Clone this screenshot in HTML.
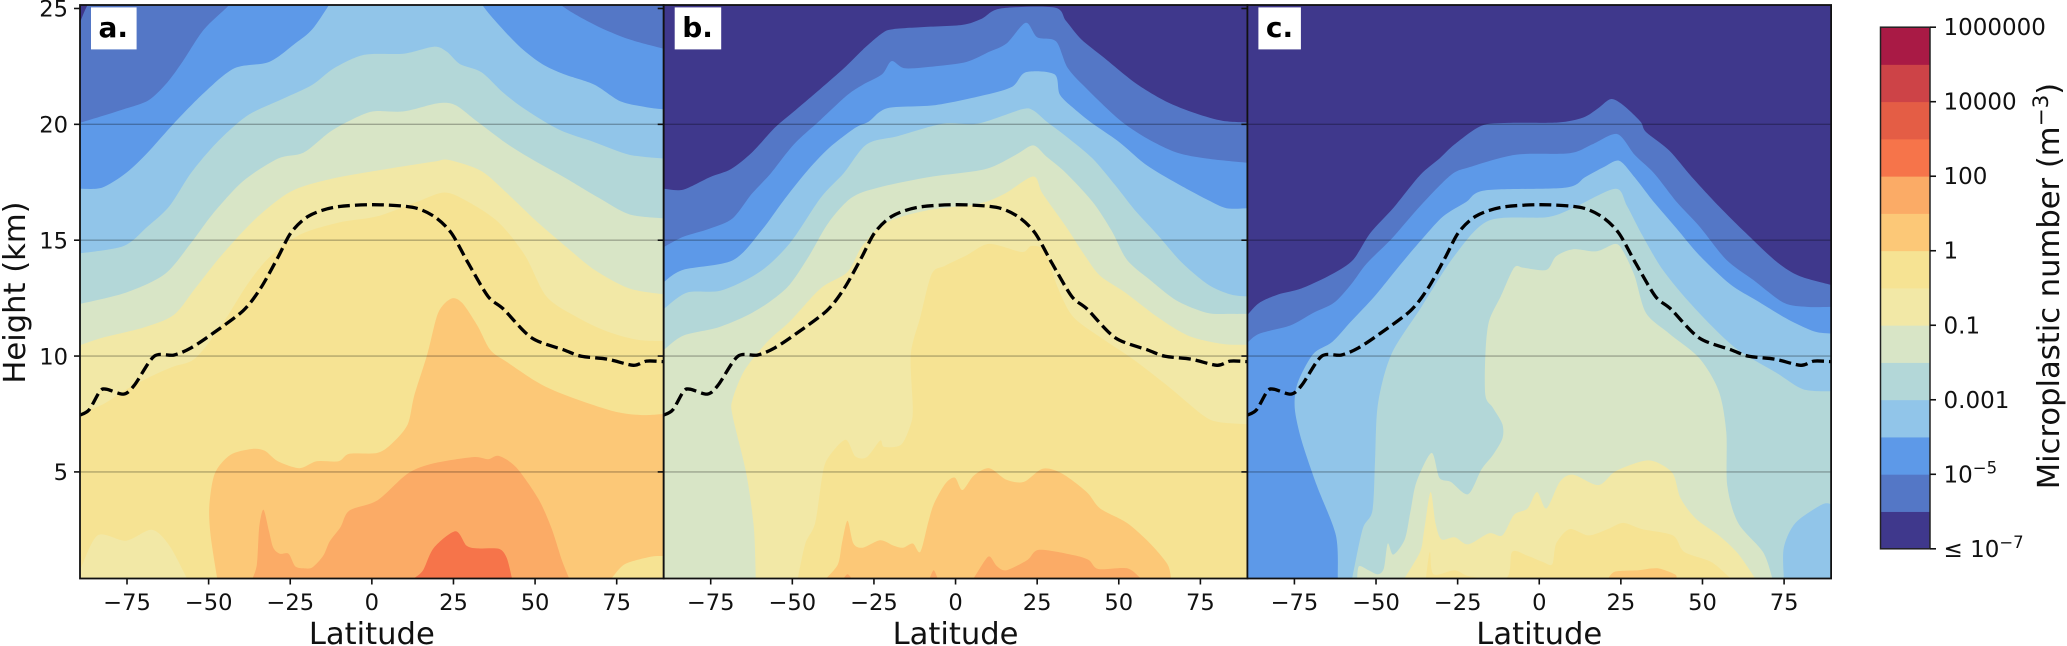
<!DOCTYPE html>
<html lang="en">
<head>
<meta charset="utf-8">
<title>Microplastic number by latitude and height</title>
<style>
html,body{margin:0;padding:0;background:#fff;width:2067px;height:646px;overflow:hidden}
svg{display:block;font-family:"DejaVu Sans","Liberation Sans",sans-serif}
</style>
</head>
<body>
<svg id="chart" xmlns="http://www.w3.org/2000/svg" width="2067" height="646" viewBox="0 0 2067 646"></svg>
<script>
const bandColors = ['#3f388c','#5477c6','#5d99e8','#91c5e9','#b3d7d8','#d8e5c6','#f2e8a6','#f6e393','#fcc877','#fbab66','#f6744a','#e45d45','#cd4347','#a91a45'];
const latTicks = [-75,-50,-25,0,25,50,75];
const heightTicks = [5,10,15,20,25];
const gridHeights = [5,10,15,20];
const cbarLabelText = ['≤ 10','10','0.001','0.1','1','100','10000','1000000'];
const cbarLabelSup = ['−7','−5','','','','','',''];

const tropopause = [[-89.4,7.45],[-86.6,7.68],[-83.3,8.48],[-81.3,8.57],[-76,8.36],[-72.7,8.75],[-66.7,9.99],[-60.7,10.04],[-55.4,10.35],[-48.8,10.97],[-39.5,11.95],[-34.1,12.92],[-28.8,14.25],[-24.8,15.32],[-19.5,16.03],[-11.6,16.42],[0.4,16.53],[12.4,16.42],[19,16.03],[24.3,15.32],[29.6,13.99],[35.6,12.57],[40.3,12.03],[48.9,10.79],[58.9,10.26],[64.2,9.99],[72.1,9.87],[80.1,9.6],[84.1,9.78],[89.4,9.76]];

const a1 = [[-89.4,24.4],[-86.5,25.3],[-80,26.5],[80,26.5],[89.4,26.5]];
const a2 = [[-89.4,20.06],[-76,20.65],[-68.4,21.04],[-62.7,21.8],[-58,22.7],[-51.4,24.1],[-43.4,25.2],[-36,26.5],[50,26.5],[57.5,25.2],[68.2,24.3],[78.8,23.67],[89.4,23.26]];
const a3 = [[-89.4,17.22],[-82.6,17.27],[-75.3,17.9],[-68.7,18.78],[-60.7,20.03],[-51.4,21.36],[-42.1,22.42],[-31.5,22.69],[-23.5,23.49],[-18.2,24.11],[-12.9,25.2],[-7,26.5],[28,26.5],[33.6,25.2],[38.9,24.29],[45.6,23.31],[52.2,22.6],[58.9,22.16],[68.2,21.71],[76.1,21],[84.1,20.74],[89.4,20.65]];
const a4 = [[-89.4,14.43],[-76,14.75],[-68.7,15.59],[-62,16.47],[-55.4,17.9],[-47.4,19.23],[-38.1,20.38],[-27.5,21.09],[-18.2,21.71],[-11.6,22.42],[-2.3,23],[9.7,23.05],[19,23.35],[23,23.13],[27,22.6],[33.6,22.25],[40.3,21.36],[46.9,20.65],[57.5,19.76],[68.2,19.23],[78.8,18.69],[89.4,18.52]];
const a5 = [[-89.4,12.25],[-75.3,12.74],[-63.4,13.54],[-55.4,14.88],[-48.8,16.12],[-39.5,17.54],[-28.8,18.52],[-20.9,18.78],[-12.9,19.67],[-6.2,20.2],[0.4,20.56],[9.7,20.56],[20.3,20.91],[25.6,20.83],[32.3,20.12],[41.6,19.14],[50.9,18.34],[58.9,17.72],[69.5,16.83],[78.8,16.12],[89.4,15.94]];
const a6 = [[-89.4,10.47],[-82.6,10.79],[-70,11.23],[-60.7,11.77],[-54.1,12.92],[-46.1,14.34],[-35.5,15.94],[-24.8,17.1],[-12.9,17.63],[3.1,18.04],[19,18.39],[23.6,18.46],[33.6,17.98],[41.6,17],[50.9,15.76],[58.9,14.79],[68.2,13.72],[78.8,12.92],[89.4,12.66]];
const a7 = [[-89.4,7.5],[-82,7.95],[-74,8.66],[-66,9.23],[-60.7,9.55],[-54.1,9.9],[-46.1,11.32],[-38.1,13.1],[-31.5,14.25],[-22.2,15.23],[-10.2,15.76],[1.7,16.03],[13.7,16.65],[22.3,17.06],[29.6,16.65],[38.9,15.76],[46.9,14.34],[53.5,12.57],[62.8,11.68],[72.1,11.06],[81.4,10.7],[89.4,10.65]];
const a8 = [[-47.4,0.42],[-49.4,2.26],[-49.8,3.51],[-48.1,4.93],[-43.4,5.73],[-36.8,5.99],[-32.8,5.91],[-28.8,5.46],[-22.2,5.16],[-16.9,5.46],[-10.2,5.46],[-6.9,5.78],[1.7,5.82],[6.4,6.26],[11,7.06],[13,8.3],[17,10.08],[20.3,11.86],[24.3,12.48],[27.6,12.3],[32.3,11.32],[36.3,10.26],[41.6,9.72],[52.2,8.75],[62.8,8.13],[74.8,7.59],[82.8,7.45],[89.4,7.5]];
const a9 = [[-36.5,0.42],[-35.2,1.02],[-34.5,2.62],[-33.2,3.37],[-31.5,2.44],[-30.2,1.73],[-28.2,1.47],[-25.5,1.47],[-23.5,0.93],[-20.9,0.84],[-18.2,0.88],[-14.9,1.38],[-12.9,2],[-9.6,2.62],[-6.9,3.33],[1.7,3.77],[11,4.93],[19,5.37],[31,5.64],[35.6,5.55],[38.9,5.69],[44.2,5.2],[50.9,3.86],[54.9,2.62],[58.2,1.2],[60.4,0.42]];
const a10 = [[13,0.42],[15.7,0.76],[19,1.73],[25.6,2.44],[29,1.82],[32.3,1.7],[38.9,1.68],[41.3,1.29],[42.9,0.42]];
const aIslandLeft = [[-89.4,0.75],[-84,2.26],[-75.3,2.03],[-67.4,2.5],[-62,1.82],[-56.7,0.42]];
const aIslandRight = [[73.5,0.42],[77.5,1.02],[85.4,1.34],[89.4,1.37]];

const b1 = [[-89.4,17.22],[-83.5,17.18],[-75.3,17.72],[-68.8,18.07],[-62.4,18.78],[-55.4,19.85],[-49.5,20.56],[-41.3,21.54],[-34.2,22.42],[-28.4,23.22],[-22.5,23.93],[-19,24.11],[-9.6,24.2],[2.1,24.29],[8,24.56],[13.8,25],[30.3,25.04],[33.8,24.47],[38.5,23.67],[45.5,22.87],[54.9,21.8],[64.3,21],[73.6,20.47],[81.9,20.15],[89.5,20.08]];
const b2 = [[-89.4,14.7],[-83.5,15.14],[-75.3,15.5],[-68.3,15.94],[-62.4,17],[-56.5,17.9],[-49.5,19.14],[-41.3,20.2],[-33.1,21.27],[-28.4,21.71],[-22.5,22.16],[-19.6,22.73],[-15.5,22.42],[-6.1,22.51],[3.3,22.69],[10.3,23.13],[15.6,23.49],[21.5,24.38],[25,23.76],[30.8,23.58],[34.4,22.42],[40.8,21.45],[50.2,20.2],[58.4,19.41],[67.8,18.78],[77.2,18.52],[89.5,18.34]];
const b3 = [[-89.4,13.19],[-83.5,13.72],[-68.3,14.13],[-59.5,15.41],[-53,16.65],[-46,17.9],[-38.9,18.96],[-30.7,19.85],[-26.6,20.12],[-20.8,20.7],[-6.1,20.83],[9.1,21.27],[17.4,21.63],[21.5,22.25],[30.3,22.16],[32,21.27],[37.3,20.56],[42,20.03],[50.2,19.23],[58.4,18.25],[67.8,17.45],[77.2,16.74],[83,16.38],[89.5,16.38]];
const b4 = [[-89.4,12.03],[-82.3,12.74],[-71.8,12.83],[-60,13.63],[-50.7,14.88],[-41.3,16.83],[-34.2,17.9],[-27.2,19.14],[-17.8,19.49],[-3.8,20.03],[6.8,20.03],[20.3,20.65],[23.8,20.6],[27.9,20.12],[33.8,19.49],[42,18.52],[49,17.36],[54.9,16.3],[61.9,15.23],[69,14.08],[77.2,13.1],[84.2,12.66],[89.5,12.57]];
const b5 = [[-89.4,10.26],[-83.5,10.88],[-72.9,11.23],[-63.6,11.77],[-56.5,12.39],[-50.7,13.1],[-44.8,14.34],[-38.9,15.76],[-31.9,16.83],[-23.7,17.27],[-8.4,17.72],[9.1,18.07],[18.5,18.69],[23.8,19.09],[27.9,18.6],[33.8,17.9],[42,16.65],[47.8,15.41],[52.5,14.16],[59.6,13.28],[67.8,12.39],[77.2,11.86],[84.2,11.82],[89.5,11.82]];
const b6 = [[-61.2,0.42],[-61.8,2.62],[-64.1,4.93],[-68.3,7.42],[-68.3,8.13],[-64.7,9.37],[-57.7,10.61],[-50.7,11.5],[-41.3,12.92],[-33.1,13.63],[-28.4,14.79],[-21.3,15.76],[-8.4,16.3],[6.8,16.56],[15,17],[23.8,17.75],[26.7,17],[33.8,15.59],[39.6,14.34],[44.3,13.46],[52,12.74],[61.9,11.68],[71.3,10.88],[81.9,10.52],[89.5,10.49]];
const b7 = [[-48.3,0.42],[-46,1.91],[-43,2.8],[-40.7,4.93],[-38.9,5.64],[-33.7,6.39],[-30.7,5.67],[-27.2,5.64],[-23.1,6.35],[-21.9,6.08],[-16.7,6.17],[-13.7,7.06],[-13.1,7.77],[-13.7,10.08],[-10.8,11.68],[-7.3,13.54],[-3.2,13.9],[3.3,14.34],[10.3,14.84],[20.3,14.49],[23.2,14.75],[27.3,14.52],[31.4,12.92],[36.1,11.68],[45.5,10.7],[54.9,9.81],[65.4,8.66],[76,7.42],[80.7,7.15],[89.5,7.06]];
const b8 = [[-39.5,0.42],[-36,1.02],[-34.8,1.91],[-33.1,2.89],[-31.3,1.91],[-28.4,1.73],[-23.1,2.05],[-19,1.82],[-16.1,1.73],[-13.1,1.91],[-10.8,1.55],[-8.4,2.8],[-6.7,3.6],[-3.2,4.48],[-0.2,4.75],[2.1,4.22],[5.6,4.84],[10.3,5.16],[15.6,4.66],[20.9,4.57],[26.7,5.14],[32.6,4.93],[40.2,4.13],[44.3,3.42],[52.5,2.8],[59.6,1.91],[64.9,1.02],[66,0.42]];
const b9 = [[5.6,0.42],[9.1,1.2],[10.6,1.34],[12.7,0.93],[15.6,0.76],[22,1.2],[25.6,1.64],[36.1,1.41],[40.8,1.2],[43.7,0.81],[52.5,0.84],[56.6,0.42]];
const bIslandOne = [[-34.2,0.42],[-33.1,0.58],[-31.9,0.42]];
const bIslandTwo = [[-7.9,0.42],[-6.7,0.76],[-5.5,0.42]];

const c1 = [[-89.4,11.77],[-85.7,12.3],[-79.9,12.66],[-72.8,12.92],[-63.4,13.54],[-57,14.16],[-51.7,15.32],[-44.7,16.39],[-36.5,17.81],[-30.6,18.52],[-25.9,19.14],[-17.7,19.94],[-9.5,20.06],[5.7,20.08],[13.4,20.29],[18.1,20.7],[21.9,21.09],[25.7,20.83],[31,20.12],[32.7,19.67],[39.8,18.87],[46.8,17.72],[55,16.47],[63.2,15.32],[72.6,14.08],[79.6,13.46],[89.6,13.06]];
const c2 = [[-89.4,10.58],[-85.7,10.97],[-76.3,11.32],[-69.3,11.86],[-62.9,12.3],[-57.6,13.1],[-52.9,13.99],[-45.3,15.05],[-36.5,16.47],[-27.1,17.81],[-21.2,18.16],[-7.2,18.69],[9.3,18.75],[16.3,19.14],[23.9,19.58],[29.2,18.69],[35.1,17.9],[42.1,16.65],[49.1,15.59],[57.3,14.16],[65.6,13.28],[74.9,12.3],[82,12.12],[89.6,12.12]];
const c3 = [[-61.7,0.42],[-62.3,2.26],[-68.1,4.4],[-72.8,6.35],[-74.9,7.77],[-74,8.84],[-69.3,10.08],[-63.4,10.61],[-57.6,11.5],[-50.5,12.57],[-42.3,13.99],[-35.3,15.14],[-29.4,16.03],[-22.4,16.65],[-16.5,17.15],[8.1,17.27],[14,17.72],[19.8,18.16],[24.5,18.43],[29.2,17.72],[35.1,16.65],[42.1,15.5],[49.1,14.34],[58.5,13.1],[66.7,12.39],[76.1,11.59],[84.3,11.06],[89.6,10.97]];
const c4 = [[-57.3,0.42],[-54.1,2.53],[-51.1,3.33],[-50.3,5.46],[-49.4,7.95],[-45.3,10.08],[-36.5,12.03],[-25.9,14.34],[-15.4,15.85],[2.2,15.99],[10.4,16.39],[23.3,17.22],[26.9,16.47],[31.5,15.23],[37.4,13.81],[44.4,12.57],[52.7,11.32],[60.9,10.26],[72.6,9.28],[80.8,8.57],[89.6,8.48]];
const c5 = [[-55.8,0.42],[-55.2,0.93],[-52.3,0.76],[-49.4,0.58],[-47.6,0.84],[-46.4,1.91],[-44.7,1.43],[-41.2,2.09],[-39.4,3.33],[-37.6,4.57],[-33,5.82],[-30.6,4.75],[-27.1,4.57],[-21.8,4.04],[-17.7,5.11],[-14.2,5.73],[-11.3,6.44],[-11.3,7.06],[-14.2,7.77],[-16.5,8.3],[-16.5,10.08],[-15.4,11.5],[-11.8,12.57],[-7.7,13.81],[-4.8,13.81],[2.2,13.72],[5.2,14.31],[10.4,14.61],[17.5,14.52],[23.3,14.84],[25.7,14.52],[29.2,13.46],[32.7,11.86],[39.8,10.97],[49.1,9.9],[55,8.48],[57.3,6.71],[57.6,4.4],[60.9,2.8],[68.5,1.55],[71.4,0.42]];
const c6 = [[-41.2,0.42],[-36.5,1.55],[-35.3,2.44],[-33.3,4.13],[-31.8,2.8],[-30,2.09],[-25.9,2.18],[-21.8,1.87],[-15.4,2.35],[-11.3,2.26],[-7.7,3.15],[-3.6,3.42],[-0.7,4.13],[2.2,3.42],[6.3,4.57],[10.4,4.88],[18.1,4.43],[23.3,5.02],[31.5,5.46],[35.7,5.43],[40.9,4.93],[43.3,3.86],[48,2.98],[55,2.26],[60.9,1.47],[66.1,0.42]];
const c7 = [[-34.7,0.42],[-33.5,1.55],[-32.4,0.58],[-25.9,0.76],[-21.2,0.49],[-10.1,0.42],[-8.3,1.55],[-3.6,1.38],[1.1,1.11],[4,1.02],[5.2,1.91],[9.3,2.53],[15.1,2.26],[21,2.53],[25.7,2.8],[31.5,2.53],[40.9,2.26],[44.4,1.55],[52.7,1.11],[58.5,0.42]];
const c8 = [[21.2,0.42],[23.3,0.7],[30.4,0.76],[36.2,0.84],[41.5,0.58],[42.1,0.42]];
const cIsland = [[74.9,0.42],[74.9,1.73],[78.5,2.8],[86.7,3.6],[89.6,3.6]];

const bandsA = [[1,a1],[2,a2],[3,a3],[4,a4],[5,a5],[6,a6],[7,a7],[8,a8],[9,a9],[10,a10],[6,aIslandLeft],[7,aIslandRight]];
const bandsB = [[1,b1],[2,b2],[3,b3],[4,b4],[5,b5],[6,b6],[7,b7],[8,b8],[9,b9],[9,bIslandOne],[9,bIslandTwo]];
const bandsC = [[1,c1],[2,c2],[3,c3],[4,c4],[5,c5],[6,c6],[7,c7],[8,c8],[3,cIsland]];

const panelLetters = ['a.','b.','c.'];
const panelBands = [bandsA,bandsB,bandsC];

const LAT_MIN = -89.4, LAT_MAX = 89.4, H_MIN = 0.4, H_MAX = 25.15;
const plotTop = 5, plotBottom = 578.5, panelWidth = 583.7, firstLeft = 80;
const svg = document.getElementById('chart');
const NS = 'http://www.w3.org/2000/svg';

function make(tag, attrs, parent) {
  const el = document.createElementNS(NS, tag);
  for (const k in attrs) el.setAttribute(k, attrs[k]);
  (parent || svg).appendChild(el);
  return el;
}
function yScale(h) { return plotBottom - (h - H_MIN) * (plotBottom - plotTop) / (H_MAX - H_MIN); }
function xScale(left, lat) { return left + (lat - LAT_MIN) * panelWidth / (LAT_MAX - LAT_MIN); }

/* Rounded path through digitised contour vertices. */
function curveThrough(pts, left) {
  const px = pts.map(function (q) { return [xScale(left, q[0]), yScale(q[1])]; });
  let d = 'M' + px[0][0].toFixed(1) + ' ' + px[0][1].toFixed(1);
  const k = 1 / 7;
  for (let i = 0; i < px.length - 1; i++) {
    const p0 = px[Math.max(i - 1, 0)], p1 = px[i], p2 = px[i + 1], p3 = px[Math.min(i + 2, px.length - 1)];
    const c1x = p1[0] + (p2[0] - p0[0]) * k, c1y = p1[1] + (p2[1] - p0[1]) * k;
    const c2x = p2[0] - (p3[0] - p1[0]) * k, c2y = p2[1] - (p3[1] - p1[1]) * k;
    d += 'C' + c1x.toFixed(1) + ' ' + c1y.toFixed(1) + ' ' + c2x.toFixed(1) + ' ' + c2y.toFixed(1) + ' ' + p2[0].toFixed(1) + ' ' + p2[1].toFixed(1);
  }
  return d;
}

const defs = make('defs', {});
panelBands.forEach(function (bands, p) {
  const left = firstLeft + p * panelWidth;
  const slug = 'panel-' + panelLetters[p][0];
  const clip = make('clipPath', { id: 'clip' + p }, defs);
  make('rect', { x: left, y: plotTop, width: panelWidth, height: plotBottom - plotTop }, clip);

  const group = make('g', { 'clip-path': 'url(#clip' + p + ')' });
  
  

  const bg = make('rect', { x: left, y: plotTop, width: panelWidth, height: plotBottom - plotTop, fill: bandColors[0] }, group);
  
  

  bands.forEach(function (entry) {
    const level = entry[0], pts = entry[1];
    const lastLat = pts[pts.length - 1][0], firstLat = pts[0][0];
    const d = curveThrough(pts, left) +
      'L' + xScale(left, lastLat).toFixed(1) + ' ' + yScale(H_MIN - 1).toFixed(1) +
      'L' + xScale(left, firstLat).toFixed(1) + ' ' + yScale(H_MIN - 1).toFixed(1) + 'Z';
    const band = make('path', { d: d, fill: bandColors[level] }, group);
    
    
  });

  gridHeights.forEach(function (h) {
    const line = make('line', { x1: left, x2: left + panelWidth, y1: yScale(h), y2: yScale(h), stroke: '#000', 'stroke-opacity': 0.28, 'stroke-width': 1.4 }, group);
    
    
  });

  const tp = make('path', {
    d: curveThrough(tropopause, left),
    fill: 'none', stroke: '#000', 'stroke-width': 3.3, 'stroke-dasharray': '12 5'
  }, group);
  
  

  const frame = make('rect', { x: left, y: plotTop, width: panelWidth, height: plotBottom - plotTop, fill: 'none', stroke: '#111', 'stroke-width': 1.8 });
  
  

  latTicks.forEach(function (lat) {
    const x = xScale(left, lat);
    const tick = make('line', { x1: x, x2: x, y1: plotBottom, y2: plotBottom + 6, stroke: '#111', 'stroke-width': 1.6 });
    
    
    const label = make('text', { x: x, y: 610, 'text-anchor': 'middle', 'font-size': 22.6, fill: '#111' });
    label.textContent = String(lat).replace('-', '−');
    
    
  });

  heightTicks.forEach(function (h) {
    const y = yScale(h);
    const tick = make('line', { x1: left - 6, x2: left, y1: y, y2: y, stroke: '#111', 'stroke-width': 1.6 });
    
    
    if (p === 0) {
      const label = make('text', { x: left - 12, y: y + 8.2, 'text-anchor': 'end', 'font-size': 22.6, fill: '#111' });
      label.textContent = String(h);
      
      
    }
  });

  const xTitle = make('text', { x: left + panelWidth / 2, y: 644, 'text-anchor': 'middle', 'font-size': 30.6, fill: '#111' });
  xTitle.textContent = 'Latitude';
  
  

  const boxX = left + 11;
  const box = make('rect', { x: boxX, y: 7.4, width: p === 2 ? 42.5 : (p === 1 ? 46.5 : 45.6), height: 42, fill: '#fff' });
  
  
  const letter = make('text', { x: boxX + 7.5, y: 37, 'font-size': 28, 'font-weight': 'bold', fill: '#000' });
  letter.textContent = panelLetters[p];
  
  
});

const yTitle = make('text', { transform: 'translate(25,292.5) rotate(-90)', 'text-anchor': 'middle', 'font-size': 30.6, fill: '#111' });
yTitle.textContent = 'Height (km)';



const cbarLeft = 1880.5, cbarRight = 1930, cbarTop = 27.2, cbarBottom = 548.8;
const levelHeight = (cbarBottom - cbarTop) / bandColors.length;
const cbar = make('g', {});


bandColors.forEach(function (color, i) {
  const seg = make('rect', { x: cbarLeft, y: cbarBottom - (i + 1) * levelHeight, width: cbarRight - cbarLeft, height: levelHeight + 0.4, fill: color }, cbar);
  
  
});
const cbarFrame = make('rect', { x: cbarLeft, y: cbarTop, width: cbarRight - cbarLeft, height: cbarBottom - cbarTop, fill: 'none', stroke: '#222', 'stroke-width': 1.5 }, cbar);


cbarLabelText.forEach(function (txt, i) {
  const y = cbarBottom - i * 2 * levelHeight;
  const tick = make('line', { x1: cbarRight, x2: cbarRight + 6, y1: y, y2: y, stroke: '#111', 'stroke-width': 1.6 }, cbar);
  
  
  const label = make('text', { x: 1943.5, y: y + 8, 'font-size': 23, fill: '#111' }, cbar);
  label.textContent = txt;
  
  
  if (cbarLabelSup[i]) {
    const sup = make('tspan', { dy: -9, 'font-size': 16.5 }, label);
    sup.textContent = cbarLabelSup[i];
  }
});

const cbarTitle = make('text', { transform: 'translate(2059,286) rotate(-90)', 'text-anchor': 'middle', 'font-size': 30.6, fill: '#111' });


const titleMain = make('tspan', {}, cbarTitle);
titleMain.textContent = 'Microplastic number (m';
const titleSup = make('tspan', { dy: -11, 'font-size': 21.5 }, cbarTitle);
titleSup.textContent = '−3';
const titleEnd = make('tspan', { dy: 11 }, cbarTitle);
titleEnd.textContent = ')';
</script>
</body>
</html>
